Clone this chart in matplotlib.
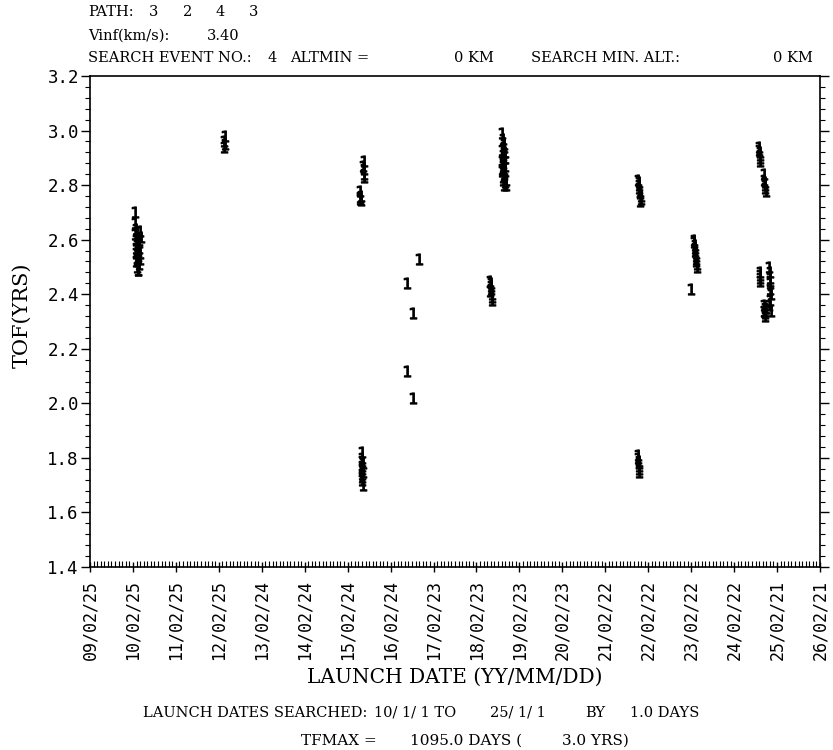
import datetime as dt
import matplotlib
matplotlib.use("Agg")
import matplotlib.pyplot as plt
import matplotlib.dates as mdates
from matplotlib.ticker import FixedLocator, MultipleLocator

# launch day (days after 2010-01-01) and time of flight (yrs), one list pair per cluster
day_a = [73, 75, 71, 77, 80, 85, 83, 90, 95, 87, 100, 105, 93, 110, 115, 97, 103, 120, 113, 107, 91, 99, 117, 81]
tof_a = [2.70, 2.66, 2.62, 2.60, 2.57, 2.55, 2.52, 2.50, 2.49, 2.58, 2.54, 2.51, 2.62, 2.60, 2.63, 2.56,
         2.59, 2.61, 2.53, 2.57, 2.53, 2.49, 2.55, 2.64]
day_b = [830, 837, 833, 840]
tof_b = [2.96, 2.98, 2.94, 2.95]
day_c = [2015, 2015, 2017, 2015, 2013, 1987, 1990, 1985, 1993, 1988]
tof_c = [2.89, 2.86, 2.84, 2.83, 2.87, 2.78, 2.76, 2.75, 2.745, 2.755]
day_c2 = [2003, 2005, 2007, 2004, 2006, 2008, 2005, 2003, 2007, 2006, 2002]
tof_c2 = [1.82, 1.80, 1.78, 1.77, 1.76, 1.75, 1.74, 1.72, 1.70, 1.79, 1.73]
day_d = [2388, 2490, 2439, 2388, 2439]
tof_d = [2.44, 2.53, 2.33, 2.12, 2.02]
day_e = [3090, 3095, 3100, 3093, 3105, 3110, 3103, 3097]
tof_e = [2.45, 2.43, 2.42, 2.41, 2.40, 2.39, 2.38, 2.44]
day_f = [3195, 3200, 3205, 3190, 3210, 3197, 3215, 3193, 3203, 3220, 3207, 3195, 3213, 3201, 3225,
         3217, 3210, 3223, 3199, 3211, 3205, 3219, 3191, 3203, 3215]
tof_f = [2.99, 2.97, 2.95, 2.93, 2.92, 2.91, 2.90, 2.89, 2.88, 2.87, 2.86, 2.85, 2.84, 2.83, 2.82,
         2.81, 2.80, 2.80, 2.87, 2.94, 2.90, 2.85, 2.86, 2.82, 2.92]
day_g = [4350, 4355, 4360, 4365, 4363, 4370, 4375, 4367, 4357]
tof_g = [2.82, 2.80, 2.79, 2.78, 2.77, 2.76, 2.75, 2.74, 2.81]
day_g2 = [4350, 4353, 4355, 4357, 4360, 4355, 4352]
tof_g2 = [1.81, 1.79, 1.78, 1.77, 1.76, 1.75, 1.80]
day_h = [4825, 4830, 4835, 4833, 4840, 4837, 4845, 4843, 4850, 4847, 4827, 4797]
tof_h = [2.60, 2.58, 2.57, 2.56, 2.55, 2.54, 2.53, 2.52, 2.51, 2.50, 2.59, 2.42]
day_i = [5377, 5380, 5383, 5385, 5387, 5381, 5420, 5423, 5425, 5427, 5430, 5433]
tof_i = [2.94, 2.93, 2.92, 2.91, 2.90, 2.89, 2.84, 2.82, 2.81, 2.80, 2.79, 2.78]
day_i2 = [5383, 5385, 5381, 5387, 5420, 5425, 5423, 5430, 5427, 5417, 5433,
          5465, 5470, 5467, 5473, 5469, 5475, 5471, 5465, 5477, 5473]
tof_i2 = [2.48, 2.46, 2.45, 2.47, 2.36, 2.35, 2.34, 2.33, 2.32, 2.34, 2.35,
          2.50, 2.48, 2.46, 2.44, 2.42, 2.40, 2.38, 2.36, 2.34, 2.45]

days = [day_a, day_b, day_c, day_c2, day_d, day_e, day_f, day_g, day_g2, day_h, day_i, day_i2]
tofs = [tof_a, tof_b, tof_c, tof_c2, tof_d, tof_e, tof_f, tof_g, tof_g2, tof_h, tof_i, tof_i2]

start = mdates.date2num(dt.datetime(2010, 1, 1))
tick0 = mdates.date2num(dt.datetime(2009, 2, 25))

mono = "DejaVu Sans Mono"
serif = "DejaVu Serif"

W, H = 833, 750
fig = plt.figure(figsize=(8.33, 7.5), dpi=100)
ax = fig.add_axes([90 / W, 1 - 567 / H, 730 / W, 491 / H])

for d, t in zip(days, tofs):
    x = [start + v for v in d]
    ax.plot(x, t, linestyle="none", marker="$1$", markersize=8, color="k", markeredgewidth=0.8)

# major ticks every 365 days, like the original plotter output
major = [tick0 + 365 * k for k in range(18)]
ax.set_xlim(major[0], major[-1])
ax.set_ylim(1.4, 3.2)
ax.xaxis.set_major_locator(FixedLocator(major))
ax.xaxis.set_minor_locator(FixedLocator([tick0 + 365 * k / 12 for k in range(17 * 12 + 1)]))
ax.xaxis.set_major_formatter(mdates.DateFormatter("%y/%m/%d"))
ax.yaxis.set_major_locator(MultipleLocator(0.2))
ax.yaxis.set_minor_locator(MultipleLocator(0.04))
ax.yaxis.set_major_formatter(plt.FuncFormatter(lambda v, p: "%.1f" % v))

ax.tick_params(axis="x", which="major", direction="inout", length=7, width=1, labelsize=12,
               labelrotation=90, pad=6)
ax.tick_params(axis="x", which="minor", direction="in", length=4, width=0.8, top=False)
ax.tick_params(axis="y", which="major", direction="out", length=6.5, width=1, labelsize=12.5,
               right=True, pad=1.5)
ax.tick_params(axis="y", which="minor", direction="out", length=3.5, width=0.8, right=True)
for lab in ax.get_xticklabels() + ax.get_yticklabels():
    lab.set_fontfamily(mono)
for s in ax.spines.values():
    s.set_linewidth(1.2)

fig.text(22 / W, 1 - 315 / H, "TOF(YRS)", fontsize=15, family=serif, rotation=90,
         ha="center", va="center")
fig.text(455 / W, 1 - 677 / H, "LAUNCH DATE (YY/MM/DD)", fontsize=14.5, family=serif,
         ha="center", va="center")

# header lines, pieces placed where the plotter put them
hdr = dict(fontsize=10.5, family=serif, va="center")
fig.text(88 / W, 1 - 12 / H, "PATH:", **hdr)
for px, s in zip([149, 183, 215, 249], ["3", "2", "4", "3"]):
    fig.text(px / W, 1 - 12 / H, s, **hdr)
fig.text(88 / W, 1 - 36 / H, "Vinf(km/s):", **hdr)
fig.text(207 / W, 1 - 36 / H, "3.40", **hdr)
for px, s in zip([88, 268, 290, 454, 531, 773],
                 ["SEARCH EVENT NO.:", "4", "ALTMIN =", "0 KM", "SEARCH MIN. ALT.:", "0 KM"]):
    fig.text(px / W, 1 - 58 / H, s, **hdr)

# footer lines
ftr = dict(fontsize=10.5, family=serif, va="center")
for px, s in zip([143, 374, 490, 585, 630],
                 ["LAUNCH DATES SEARCHED:", "10/ 1/ 1 TO", "25/ 1/ 1", "BY", "1.0 DAYS"]):
    fig.text(px / W, 1 - 713 / H, s, **ftr)
ftr["fontsize"] = 11
for px, s in zip([301, 410, 562], ["TFMAX =", "1095.0 DAYS (", "3.0 YRS)"]):
    fig.text(px / W, 1 - 741 / H, s, **ftr)

fig.savefig("out.png", dpi=100)
